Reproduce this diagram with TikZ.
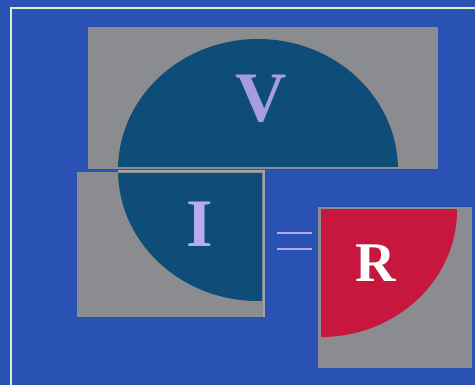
\documentclass[tikz,border=0pt]{standalone}
\usepackage{fontspec}
\setmainfont{Liberation Serif}
\definecolor{bgblue}{HTML}{2A52B4}
\definecolor{boxgray}{HTML}{8A8C90}
\definecolor{edgegray}{HTML}{A0A4AC}
\definecolor{teal}{HTML}{0D4D78}
\definecolor{rred}{HTML}{C8173E}
\definecolor{lav}{HTML}{A79BE2}
\definecolor{lavI}{HTML}{B9AAEC}
\definecolor{frame}{HTML}{D8F0C8}
\tikzset{
  letter/.style={inner sep=0pt, font=\bfseries},
  eqline/.style={draw=lavI, line width=2.5pt}
}
\begin{document}
\begin{tikzpicture}[x=1pt,y=-1pt]
\useasboundingbox (0,0) rectangle (475,385);
\fill[bgblue] (0,0) rectangle (475,385);
\draw[frame, line width=2pt] (10.5,385) -- (10.5,8.5) -- (475,8.5);
% top gray box with upper half ellipse
\fill[boxgray] (88,27) rectangle (438,169);
\begin{scope}
  \clip (88,27) rectangle (438,166.5);
  \fill[teal] (258,170) ellipse [x radius=140, y radius=131];
\end{scope}
% lower gray box with lower-left quarter
\fill[boxgray] (77,172) rectangle (265,317);
\begin{scope}
  \clip (77,173.5) rectangle (262,317);
  \fill[teal] (258,170) ellipse [x radius=140, y radius=131];
\end{scope}
\draw[edgegray, line width=1.5pt] (118,171) -- (264,171) -- (264,317);
% R box
\fill[boxgray] (318,207) rectangle (472,368);
\begin{scope}
  \clip (321,210) rectangle (469,365);
  \fill[rred] (321,210) ellipse [x radius=136, y radius=127];
\end{scope}
% equals sign
\coordinate (e1a) at (277,233); \coordinate (e1b) at (312,233);
\coordinate (e2a) at (277,249); \coordinate (e2b) at (312,249);
\draw[eqline] (e1a) -- (e1b);
\draw[eqline] (e2a) -- (e2b);
% letters
\node[letter, text=lav, font=\fontsize{71}{71}\selectfont\bfseries] (V) at (261.5,98.5) {V};
\node[letter, text=lavI, font=\fontsize{68}{68}\selectfont\bfseries] (I) at (199.5,224.5) {I};
\node[letter, text=white, font=\fontsize{56}{56}\selectfont\bfseries] (R) at (375.5,263.5) {R};
\end{tikzpicture}
\end{document}
